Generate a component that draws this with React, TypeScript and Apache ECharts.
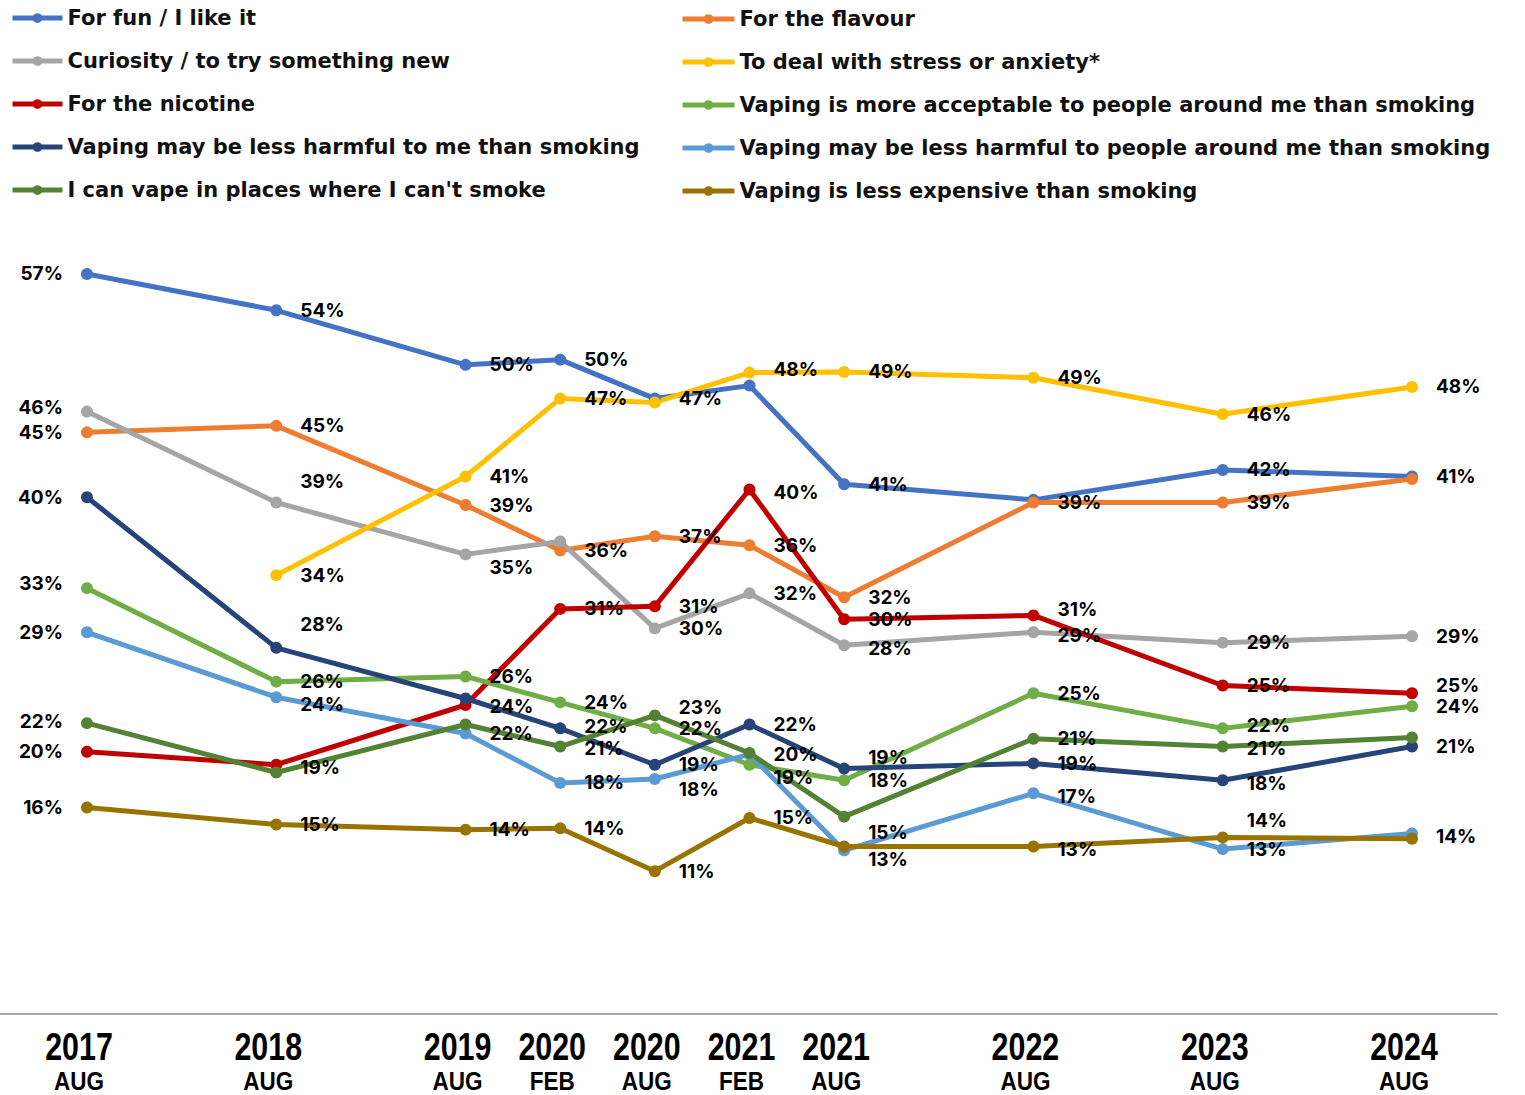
import React, { useEffect, useRef } from "react";
import * as echarts from "echarts";

// Survey waves (x = half-years since Aug 2017)
const periodX = [0, 2, 4, 5, 6, 7, 8, 10, 12, 14];
const yearLabels = ["2017", "2018", "2019", "2020", "2020", "2021", "2021", "2022", "2023", "2024"];
const monthLabels = ["AUG", "AUG", "AUG", "FEB", "AUG", "FEB", "AUG", "AUG", "AUG", "AUG"];

// Series values (%)
const forFun = [57.0, 54.2, 50.0, 50.4, 47.4, 48.4, 40.8, 39.6, 41.9, 41.4];
const flavour = [44.8, 45.3, 39.2, 35.7, 36.8, 36.1, 32.1, 39.4, 39.4, 41.2];
const curiosity = [46.4, 39.4, 35.4, 36.4, 29.7, 32.4, 28.4, 29.4, 28.6, 29.1];
const stress = [null, 33.8, 41.4, 47.4, 47.1, 49.4, 49.45, 49.0, 46.2, 48.3];
const nicotine = [20.2, 19.2, 23.8, 31.2, 31.4, 40.4, 30.4, 30.7, 25.3, 24.7];
const acceptable = [32.8, 25.6, 26.0, 24.0, 22.0, 19.2, 18.0, 24.7, 22.0, 23.7];
const harmfulMe = [39.8, 28.2, 24.3, 22.0, 19.2, 22.3, 18.9, 19.3, 18.0, 20.6];
const harmfulOthers = [29.4, 24.4, 21.6, 17.8, 18.1, 20.0, 12.6, 17.0, 12.7, 13.9];
const places = [22.4, 18.6, 22.3, 20.6, 23.0, 20.1, 15.2, 21.2, 20.6, 21.3];
const cheaper = [15.9, 14.6, 14.2, 14.3, 11.0, 15.1, 12.9, 12.9, 13.6, 13.5];

const names: Record<string, string> = {
  forFun: "For fun / I like it",
  flavour: "For the flavour",
  curiosity: "Curiosity / to try something new",
  stress: "To deal with stress or anxiety*",
  nicotine: "For the nicotine",
  acceptable: "Vaping is more acceptable to people around me than smoking",
  harmfulMe: "Vaping may be less harmful to me than smoking",
  harmfulOthers: "Vaping may be less harmful to people around me than smoking",
  places: "I can vape in places where I can't smoke",
  cheaper: "Vaping is less expensive than smoking",
};

// Label vertical nudges (px) per wave; "x" = label hidden (value shown by an overlapping series)
const labelNudge: Record<string, (number | "x")[]> = {
  forFun: [0, 0, 0, 0, 0, -16, 0, "x", 0, 0],
  flavour: [0, 0, 0, 0, 0, 0, 0, 0, 0, "x"],
  curiosity: [-4, -21, 13, "x", 0, 0, 3, 3, 0, 0],
  stress: [0, 0, 0, 0, "x", "x", 0, 0, 0, 0],
  nicotine: [0, "x", "x", 0, 0, 3, 0, -6, 0, -8],
  acceptable: [-5, 0, 0, 0, 0, 13, 0, 0, -3, 0],
  harmfulMe: [0, -23, 8, -2, 0, 0, -11, 0, 3, 0],
  harmfulOthers: [0, 7, 0, 0, 10, 0, 9, 3, 0, 3],
  places: [-2, -5, "x", 2, -8, "x", 16, 0, 2, "x"],
  cheaper: [0, 0, 0, 0, 0, 0, "x", 3, -17, "x"],
};

const seriesDefs: { key: string; values: (number | null)[]; color: string }[] = [
  { key: "forFun", values: forFun, color: "#4472C4" },
  { key: "flavour", values: flavour, color: "#ED7D31" },
  { key: "curiosity", values: curiosity, color: "#A5A5A5" },
  { key: "stress", values: stress, color: "#FFC000" },
  { key: "nicotine", values: nicotine, color: "#C00000" },
  { key: "acceptable", values: acceptable, color: "#70AD47" },
  { key: "harmfulMe", values: harmfulMe, color: "#264478" },
  { key: "harmfulOthers", values: harmfulOthers, color: "#5B9BD5" },
  { key: "places", values: places, color: "#548235" },
  { key: "cheaper", values: cheaper, color: "#997300" },
];

const leftLegend = ["forFun", "curiosity", "nicotine", "harmfulMe", "places"];
const rightLegend = ["flavour", "stress", "acceptable", "harmfulOthers", "cheaper"];

const LABEL_FONT = "Inter, 'Noto Sans', sans-serif";
const LEGEND_FONT = "'DejaVu Sans', 'Noto Sans', sans-serif";
const AXIS_FONT = "'Liberation Sans', Arial, sans-serif";

export default function App() {
  const ref = useRef<HTMLDivElement>(null);
  useEffect(() => {
    document.body.style.margin = "0";
    if (!ref.current) return;
    const chart = echarts.init(ref.current, null, { renderer: "svg" });

    const series = seriesDefs.map((s) => {
      const data: any[] = [];
      const origIdx: number[] = [];
      s.values.forEach((v, i) => {
        if (v === null || v === undefined) return;
        const nudge = labelNudge[s.key][i];
        origIdx.push(i);
        data.push({
          value: [periodX[i], v],
          label: {
            show: nudge !== "x",
            position: i === 0 ? "left" : "right",
            distance: 18,
          },
        });
      });
      return {
        type: "line",
        name: names[s.key],
        data,
        color: s.color,
        symbol: "circle",
        symbolSize: 12,
        lineStyle: { width: 5, color: s.color },
        itemStyle: { color: s.color },
        label: {
          color: "#000",
          fontFamily: LABEL_FONT,
          fontWeight: 700,
          fontSize: 19,
          formatter: (p: any) => Math.round(p.value[1]) + "%",
        },
        labelLayout: (p: any) => {
          const n = labelNudge[s.key][origIdx[p.dataIndex]];
          return { dy: typeof n === "number" ? n : 0, hideOverlap: false };
        },
        emphasis: { disabled: true },
      };
    });

    const legendText = {
      color: "#111",
      fontFamily: LEGEND_FONT,
      fontWeight: 700,
      fontSize: 21,
      lineHeight: 24,
    };
    const legendBase = {
      orient: "vertical",
      padding: 0,
      itemHeight: 12,
      itemGap: 19,
      textStyle: legendText,
      selectedMode: false,
      lineStyle: { width: 5 },
    };

    chart.setOption({
      animation: false,
      backgroundColor: "#fff",
      legend: [
        { ...legendBase, left: 10, top: 6, itemWidth: 50, data: leftLegend.map((k) => names[k]) },
        { ...legendBase, left: 680, top: 7, itemWidth: 52, data: rightLegend.map((k) => names[k]) },
      ],
      grid: { left: 0, right: 28, top: 235, bottom: 81 },
      xAxis: {
        type: "value",
        min: -0.919,
        max: 14.898,
        axisLine: { show: true, lineStyle: { color: "#A6A6A6", width: 2 } },
        axisTick: { show: false },
        splitLine: { show: false },
        axisLabel: { show: false },
      },
      yAxis: {
        type: "value",
        min: 0,
        max: 60,
        show: false,
        splitLine: { show: false },
      },
      series,
    });

    // Two-line wave labels under the axis, placed through the x scale
    const graphics: any[] = [];
    periodX.forEach((xv, i) => {
      const px = chart.convertToPixel({ xAxisIndex: 0 }, xv) as number;
      graphics.push({
        type: "text",
        x: px - 8,
        y: 1047,
        scaleX: 0.8,
        silent: true,
        style: {
          text: yearLabels[i],
          font: `bold 38px ${AXIS_FONT}`,
          fill: "#000",
          align: "center",
          verticalAlign: "middle",
        },
      });
      graphics.push({
        type: "text",
        x: px - 8,
        y: 1081,
        scaleX: 0.9,
        silent: true,
        style: {
          text: monthLabels[i],
          font: `bold 25px ${AXIS_FONT}`,
          fill: "#000",
          align: "center",
          verticalAlign: "middle",
        },
      });
    });
    chart.setOption({ graphic: graphics });

    return () => chart.dispose();
  }, []);
  return <div ref={ref} style={{ width: 1525, height: 1095 }} />;
}
